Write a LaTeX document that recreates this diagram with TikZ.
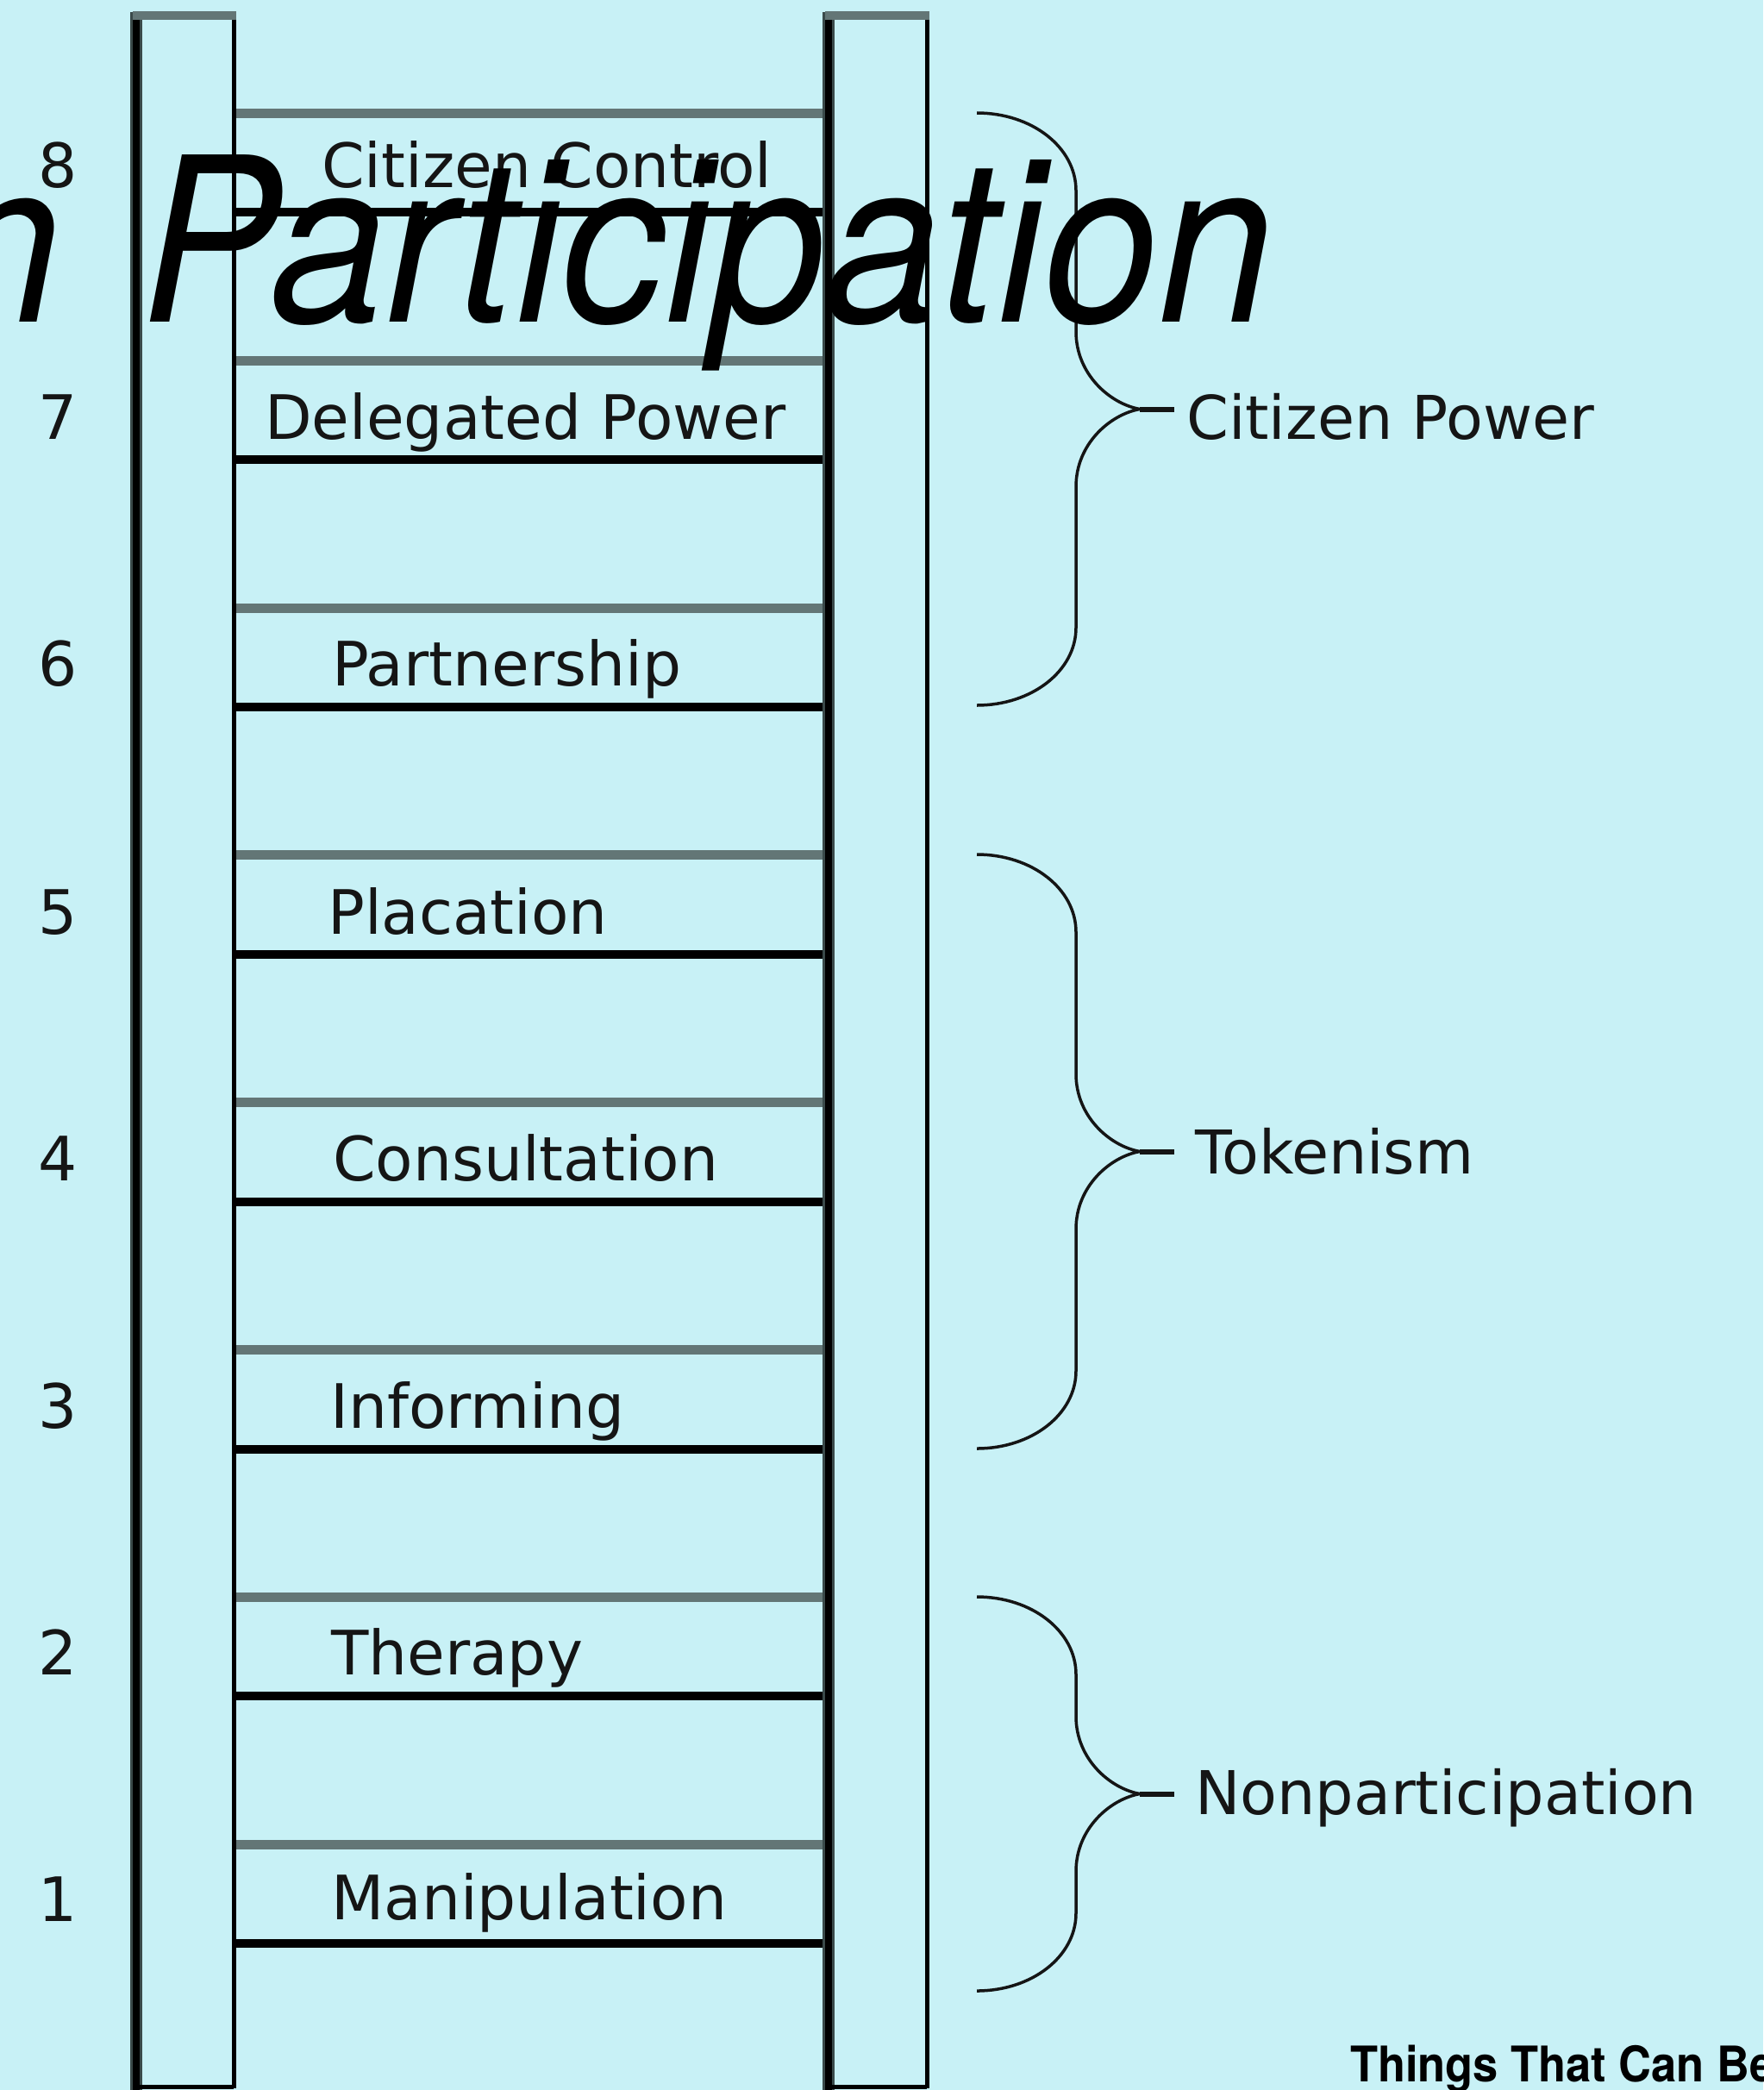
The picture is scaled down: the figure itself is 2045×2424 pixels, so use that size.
\documentclass[tikz,border=0pt]{standalone}
\usepackage{fontspec}
\setmainfont{DejaVu Sans}
\newfontfamily\titlefont{TeX Gyre Heros}
\definecolor{bg}{HTML}{C8F1F6}
\definecolor{rungc}{HTML}{637676}
\definecolor{halo}{HTML}{3A4A4A}
\definecolor{ink}{HTML}{151515}
\tikzset{
  greyrung/.style={rungc, line width=11pt},
  blackrung/.style={black, line width=10pt},
  railthick/.style={black, line width=8pt},
  railhalo/.style={halo, line width=14pt},
  railthin/.style={black, line width=5pt},
  railcap/.style={rungc, line width=10pt},
  bracestyle/.style={ink, line width=3.5pt},
  stubstyle/.style={ink, line width=6pt},
  numlabel/.style={anchor=base west, inner sep=0pt, text=ink, font=\fontsize{71}{80}\selectfont},
  runglabel/.style={anchor=base west, inner sep=0pt, text=ink, font=\fontsize{71}{80}\selectfont},
  grouplabel/.style={anchor=base west, inner sep=0pt, text=ink, font=\fontsize{70}{80}\selectfont},
}
\newcommand\ladderbrace[3]{%
  \pgfmathsetmacro\bt{#2}\pgfmathsetmacro\bb{#3}\pgfmathsetmacro\bm{(#2+#3)/2}%
  \draw[bracestyle] (1133,\bt) .. controls (1197,\bt) and (1248,\bt+40) .. (1248,\bt+90)
     -- (1248,\bm-90) .. controls (1248,\bm-40) and (1288,\bm-6) .. (1322,\bm)
     .. controls (1288,\bm+6) and (1248,\bm+40) .. (1248,\bm+90)
     -- (1248,\bb-90) .. controls (1248,\bb-40) and (1197,\bb) .. (1133,\bb);
  \coordinate (#1tip) at (1322,\bm);
  \coordinate (#1stub) at (1362,\bm);
  \draw[stubstyle] (#1tip) -- (#1stub);
}
\begin{document}
\begin{tikzpicture}[x=1pt,y=-1pt]
\useasboundingbox (0,0) rectangle (2045,2424);
\clip (0,0) rectangle (2045,2424);
\fill[bg] (0,0) rectangle (2045,2424);

% rungs
\foreach \k in {1,...,8}{
  \pgfmathsetmacro\yg{131.5+286.8*(8-\k)}
  \draw[greyrung] (272,\yg) -- (958,\yg);
  \draw[blackrung] (272,\yg+115) -- (958,\yg+115);
}

% left rail
\draw[railhalo] (158,14) -- (158,2430);
\draw[railthick] (158,14) -- (158,2430);
\draw[railthin] (271,18) -- (271,2422);
\draw[railthin] (158,2420) -- (271,2420);
\draw[railcap] (154,18) -- (274,18);
% right rail
\draw[railhalo] (961,14) -- (961,2430);
\draw[railthick] (961,14) -- (961,2430);
\draw[railthin] (1075,18) -- (1075,2422);
\draw[railthin] (961,2420) -- (1075,2420);
\draw[railcap] (957,18) -- (1078,18);

% numbers
\node[numlabel] (n8) at (44,218) {8};
\node[numlabel] (n7) at (44,509) {7};
\node[numlabel] (n6) at (44,795) {6};
\node[numlabel] (n5) at (44,1083) {5};
\node[numlabel] (n4) at (44,1369) {4};
\node[numlabel] (n3) at (44,1656) {3};
\node[numlabel] (n2) at (44,1942) {2};
\node[numlabel] (n1) at (44,2228) {1};

% rung labels
\node[runglabel] (l8) at (373,218) {Citizen Control};
\node[runglabel] (l7) at (307,509) {Delegated Power};
\node[runglabel] (l6) at (385,795) {Partnership};
\node[runglabel] (l5) at (380,1083) {Placation};
\node[runglabel] (l4) at (386,1369) {Consultation};
\node[runglabel] (l3) at (383,1656) {Informing};
\node[runglabel] (l2) at (384,1942) {Therapy};
\node[runglabel] (l1) at (384,2226) {Manipulation};

% braces
\ladderbrace{cp}{131}{818}
\ladderbrace{tk}{991}{1680}
\ladderbrace{np}{1852}{2309}
\node[grouplabel] (cpl) at (1376,509) {Citizen Power};
\node[grouplabel] (tkl) at (1386,1361) {Tokenism};
\node[grouplabel] (npl) at (1386,2104) {Nonparticipation};

% overlay texts
\node[anchor=base east, inner sep=0pt, text=black, font=\titlefont\itshape\fontsize{266}{266}\selectfont] (title) at (1477,373) {\scalebox{0.9}[1]{n\hspace{30pt} Participation}};
\node[anchor=base west, inner sep=0pt, text=black, font=\titlefont\bfseries\fontsize{57}{57}\selectfont] (credit) at (1566,2414) {\scalebox{0.92}[1]{Things That Can Be}};
\end{tikzpicture}
\end{document}
